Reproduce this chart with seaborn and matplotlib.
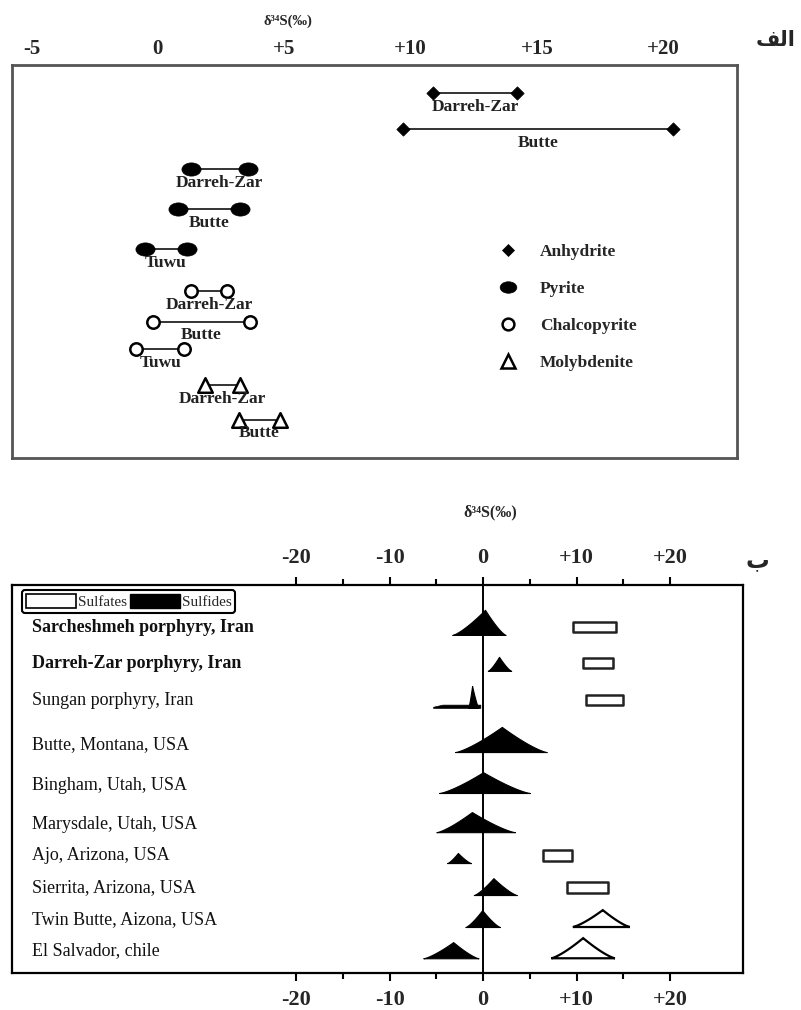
import numpy as np
import pandas as pd
import matplotlib
matplotlib.use("Agg")
import matplotlib.pyplot as plt
import matplotlib.transforms as mtransforms
from matplotlib.path import Path
from matplotlib.lines import Line2D
from matplotlib.patches import Patch, Rectangle
import seaborn as sns

# ---------------- top panel (الف) data ----------------
top_minerals = ["Anhydrite", "Anhydrite", "Pyrite", "Pyrite", "Pyrite",
                "Chalcopyrite", "Chalcopyrite", "Chalcopyrite",
                "Molybdenite", "Molybdenite"]
top_deposits = ["Darreh-Zar", "Butte", "Darreh-Zar", "Butte", "Tuwu",
                "Darreh-Zar", "Butte", "Tuwu", "Darreh-Zar", "Butte"]
top_rows = [0, 1.0, 2.1, 3.2, 4.3, 5.45, 6.3, 7.05, 8.05, 9.0]
top_min = [10.9, 9.7, 1.3, 0.8, -0.5, 1.3, -0.2, -0.85, 1.85, 3.2]
top_max = [14.2, 20.4, 3.55, 3.25, 1.15, 2.75, 3.65, 1.05, 3.25, 4.85]
top_ticks = [-5, 0, 5, 10, 15, 20]
top_tick_labels = ["-5", "0", "+5", "+10", "+15", "+20"]
legend_minerals = ["Anhydrite", "Pyrite", "Chalcopyrite", "Molybdenite"]

# ---------------- bottom panel (ب) data ----------------
sites = ["Sarcheshmeh porphyry, Iran", "Darreh-Zar porphyry, Iran",
         "Sungan porphyry, Iran", "Butte, Montana, USA", "Bingham, Utah, USA",
         "Marysdale, Utah, USA", "Ajo, Arizona, USA", "Sierrita, Arizona, USA",
         "Twin Butte, Aizona, USA", "El Salvador, chile"]
site_bold = [True, True, False, False, False, False, False, False, False, False]
site_rows = [0, 1.0, 2.03, 3.26, 4.4, 5.49, 6.35, 7.24, 8.13, 9.0]
sulfide_min = [-3.3, 0.5, -1.6, -3.0, -4.7, -5.0, -3.85, -1.0, -1.9, -6.4]
sulfide_mode = [0.2, 1.7, -1.18, 2.0, 0.0, -1.2, -2.7, 1.1, -0.1, -3.2]
sulfide_max = [2.4, 3.0, -0.5, 6.8, 5.0, 3.4, -1.3, 3.6, 1.8, -0.5]
sulfide_height = [0.7, 0.39, 0.61, 0.7, 0.58, 0.56, 0.28, 0.47, 0.47, 0.45]
sulfide_tail = [None, None, (-5.35, -0.3), None, None, None, None, None, None, None]
sulfate_kind = ["box", "box", "box", None, None, None, "box", "box", "peak", "peak"]
sulfate_min = [9.6, 10.7, 11.0, np.nan, np.nan, np.nan, 6.4, 9.0, 9.6, 7.3]
sulfate_mode = [np.nan, np.nan, np.nan, np.nan, np.nan, np.nan, np.nan, np.nan, 12.8, 10.7]
sulfate_max = [14.2, 13.9, 15.0, np.nan, np.nan, np.nan, 9.5, 13.4, 15.7, 14.1]
sulfate_height = [np.nan, np.nan, np.nan, np.nan, np.nan, np.nan, np.nan, np.nan, 0.47, 0.56]
bottom_ticks = [-20, -10, 0, 10, 20]
bottom_tick_labels = ["-20", "-10", "0", "+10", "+20"]
bottom_minor = [-15, -5, 5, 15]
legend_groups = ["Sulfates", "Sulfides"]

# ---------------- style ----------------
sns.set_style("white")
SERIF = ["Liberation Serif", "DejaVu Serif"]
plt.rcParams["font.family"] = SERIF
plt.rcParams["axes.unicode_minus"] = False

fig = plt.figure(figsize=(8.01, 10.10), dpi=100)
ax1 = fig.add_axes([12 / 801, 1 - 458 / 1010, 725 / 801, 393 / 1010])
ax2 = fig.add_axes([12 / 801, 1 - 973 / 1010, 731 / 801, 388 / 1010])

# ================= top panel =================
ellipse = Path(Path.unit_circle().vertices * np.array([1.45, 1.0]), Path.unit_circle().codes)
mstyle = {
    "Anhydrite": dict(marker="D", s=46, color="black", edgecolor="black", linewidth=0.5),
    "Pyrite": dict(marker=ellipse, s=190, color="black", edgecolor="black", linewidth=0.5),
    "Chalcopyrite": dict(marker="o", s=80, color="white", edgecolor="black", linewidth=1.8),
    "Molybdenite": dict(marker="^", s=110, color="white", edgecolor="black", linewidth=1.8),
}

top_df = pd.DataFrame({"mineral": top_minerals, "deposit": top_deposits,
                       "row": top_rows, "lo": top_min, "hi": top_max})
pts = pd.concat([top_df.assign(x=top_df["lo"]), top_df.assign(x=top_df["hi"])])

ax1.hlines(top_df["row"], top_df["lo"], top_df["hi"], color="#333333", lw=1.4, zorder=2)
for mineral, sub in pts.groupby("mineral", sort=False):
    sns.scatterplot(data=sub, x="x", y="row", ax=ax1, zorder=3, legend=False,
                    **mstyle[mineral])
for _, r in top_df.iterrows():
    ax1.text((r["lo"] + r["hi"]) / 2, r["row"] + 0.38, r["deposit"], ha="center",
             va="center", fontsize=12.5, fontweight="bold", color="#222222")

ax1.set_xlim(-5.77, 22.92)
ax1.set_ylim(10.06, -0.77)
ax1.xaxis.tick_top()
ax1.set_xticks(top_ticks, top_tick_labels)
ax1.tick_params(axis="x", length=0, pad=4, labelsize=15)
for t in ax1.get_xticklabels():
    t.set_fontweight("bold")
ax1.set_yticks([])
ax1.set_ylabel("")
ax1.set_xlabel("δ³⁴S(‰)", fontsize=10.5, fontweight="bold")
ax1.xaxis.set_label_position("top")
ax1.xaxis.set_label_coords(0.38, 1.0 + 40 / 393)
for sp in ax1.spines.values():
    sp.set_color("#555555")
    sp.set_linewidth(2.0)

leg_sizes = {"Anhydrite": 6.5, "Pyrite": 12, "Chalcopyrite": 8.5, "Molybdenite": 9.5}
handles = []
for m in legend_minerals:
    st = mstyle[m]
    handles.append(Line2D([], [], ls="none", marker=st["marker"], ms=leg_sizes[m],
                          mfc=st["color"], mec="black", mew=st["linewidth"] if st["linewidth"] > 1 else 0.5))
ax1.legend(handles, legend_minerals, loc="upper left", bbox_to_anchor=(0.668, 0.545),
           frameon=False, borderpad=0, borderaxespad=0, handlelength=1.4,
           handletextpad=1.1, labelspacing=1.2,
           prop={"family": SERIF, "size": 12.5, "weight": "bold"})

# ================= bottom panel =================
def bell(xmin, xmode, xmax, height, n=40):
    # near-triangular outline with slightly concave flanks
    prof = lambda u: (1 - u) ** 1.3
    left = np.linspace(xmin, xmode, n)
    right = np.linspace(xmode, xmax, n)[1:]
    hl = prof((xmode - left) / (xmode - xmin))
    hr = prof((right - xmode) / (xmax - xmode))
    return np.concatenate([left, right]), np.concatenate([hl, hr]) * height

ax2.axvline(0, color="black", lw=1.4, zorder=1)
lab_tr = mtransforms.blended_transform_factory(ax2.transAxes, ax2.transData)
for i, name in enumerate(sites):
    base = site_rows[i]
    xs, hs = bell(sulfide_min[i], sulfide_mode[i], sulfide_max[i], sulfide_height[i])
    ax2.fill_between(xs, base - hs, base, color="black", lw=0.8, zorder=3)
    if sulfide_tail[i] is not None:
        t0, t1 = sulfide_tail[i]
        ax2.fill_between([t0, t0 + 1.0, t1], [base - 0.03, base - 0.09, base - 0.09],
                         base, color="black", lw=0.5, zorder=3)
    kind = sulfate_kind[i]
    if kind == "box":
        ax2.add_patch(Rectangle((sulfate_min[i], base - 0.37), sulfate_max[i] - sulfate_min[i],
                                0.3, facecolor="white", edgecolor="#222222", lw=1.8,
                                joinstyle="round", zorder=3))
    elif kind == "peak":
        xs, hs = bell(sulfate_min[i], sulfate_mode[i], sulfate_max[i], sulfate_height[i])
        ax2.fill(np.append(xs, xs[0]), np.append(base - hs, base), facecolor="white",
                 edgecolor="black", lw=1.6, zorder=3)
    ax2.text(0.027, base - 0.21, name, transform=lab_tr, ha="left", va="center",
             fontsize=13, fontweight="bold" if site_bold[i] else "normal", color="#111111")

ax2.set_xlim(-50.4, 27.8)
ax2.set_ylim(9.41, -1.39)
ax2.set_xticks(bottom_ticks, bottom_tick_labels)
ax2.set_xticks(bottom_minor, minor=True)
ax2.tick_params(axis="x", which="both", top=True, labeltop=True, bottom=True,
                labelbottom=True, direction="out", width=1.5, color="black",
                labelsize=16, pad=6)
ax2.tick_params(axis="x", which="major", length=6)
ax2.tick_params(axis="x", which="minor", length=4)
for t in ax2.get_xticklabels():
    t.set_fontweight("bold")
ax2.set_yticks([])
ax2.set_ylabel("")
for sp in ax2.spines.values():
    sp.set_color("black")
    sp.set_linewidth(1.6)
ax2.set_xlabel("δ³⁴S(‰)", fontsize=11.5, fontweight="bold")
ax2.xaxis.set_label_position("top")
ax2.xaxis.set_label_coords((490 - 12) / 731, 1.0 + (585 - 516) / 388)

leg2 = ax2.legend([Patch(facecolor="white", edgecolor="black", lw=1.2),
                   Patch(facecolor="black", edgecolor="black")], legend_groups,
                  ncol=2, loc="upper left", bbox_to_anchor=(0.0137, 0.987),
                  borderaxespad=0, borderpad=0.25, handlelength=3.3, handleheight=1.0,
                  handletextpad=0.1, columnspacing=0.2, fancybox=True, framealpha=1,
                  edgecolor="black", prop={"family": SERIF, "size": 11})
leg2.get_frame().set_linewidth(1.5)

# panel letters (Arabic, pre-shaped presentation forms for LTR rendering of "الف")
fig.text(776 / 801, 1 - 40 / 1010, "ﻒﻟﺍ", ha="center", va="center", fontsize=15,
         fontweight="bold", family=["DejaVu Sans"])
fig.text(757 / 801, 1 - 560 / 1010, "ب", ha="center", va="center", fontsize=17,
         fontweight="bold", family=["DejaVu Sans"])

fig.savefig("out.png", dpi=100, facecolor="white")
